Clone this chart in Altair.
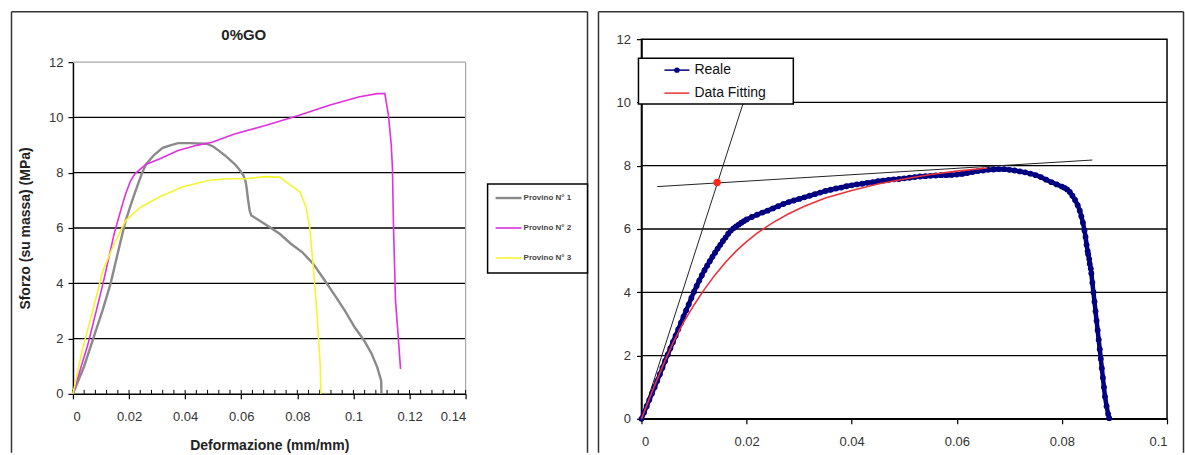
import altair as alt
import pandas as pd

FONT = "Liberation Sans"

# ---------------- Left panel: 0%GO ----------------
left_title = "0%GO"
p1_x = [0, 0.004, 0.0074, 0.0105, 0.0134, 0.016, 0.0188, 0.021, 0.0228, 0.0245, 0.026, 0.029, 0.032, 0.035,
        0.0375, 0.0415, 0.0476, 0.050, 0.052, 0.0545, 0.0563, 0.058, 0.0596, 0.0608, 0.0616, 0.062, 0.0623,
        0.063, 0.0636, 0.066, 0.0683, 0.071, 0.0737, 0.0777, 0.0817, 0.0857, 0.0898, 0.0938, 0.097, 0.1005,
        0.1038, 0.1065, 0.1085, 0.1099, 0.110]
p1_y = [0, 1.0, 2.05, 3.0, 3.98, 5.1, 6.27, 6.95, 7.48, 7.95, 8.3, 8.65, 8.9, 9.0,
        9.07, 9.07, 9.05, 8.95, 8.8, 8.6, 8.44, 8.28, 8.08, 7.9, 7.66, 7.4, 7.12,
        6.63, 6.45, 6.3, 6.15, 5.97, 5.79, 5.43, 5.13, 4.7, 4.1, 3.5, 3.0, 2.4,
        1.93, 1.45, 0.96, 0.48, 0]

p2_x = [0, 0.0054, 0.0107, 0.0147, 0.0175, 0.0188, 0.0205, 0.0221, 0.026, 0.0308, 0.0375, 0.0442, 0.0496,
        0.0576, 0.0683, 0.0804, 0.0911, 0.1018, 0.1085, 0.1112, 0.1125, 0.1135, 0.1139, 0.1143, 0.115,
        0.1159, 0.1168]
p2_y = [0, 1.81, 3.98, 5.79, 6.8, 7.24, 7.7, 7.96, 8.3, 8.5, 8.8, 8.99, 9.1,
        9.4, 9.7, 10.07, 10.43, 10.74, 10.86, 10.86, 10.07, 9.0, 8.2, 6.03, 3.38,
        2.17, 0.9]

p3_x = [0, 0.0033, 0.0074, 0.0107, 0.0147, 0.0188, 0.0241, 0.0308, 0.0389, 0.0482, 0.055, 0.0616, 0.0683,
        0.0737, 0.0777, 0.081, 0.0831, 0.0844, 0.0857, 0.0871, 0.0882, 0.0884]
p3_y = [0, 1.57, 3.14, 4.46, 5.43, 6.27, 6.75, 7.12, 7.48, 7.72, 7.78, 7.78, 7.86,
        7.84, 7.54, 7.3, 6.75, 6.03, 4.58, 2.77, 0.96, 0]

left_names = ["Provino N° 1", "Provino N° 2", "Provino N° 3"]
left_colors = ["#8a8a8a", "#e030e0", "#f4f430"]
left_widths = [2.4, 1.6, 1.6]
left_x_ticks = [0, 0.02, 0.04, 0.06, 0.08, 0.1, 0.12, 0.14]
left_y_ticks = [0, 2, 4, 6, 8, 10, 12]
left_grid = [2, 4, 6, 8, 10]
left_x_max = 0.14
left_y_max = 12
left_minor = [0, 0.004, 0.008, 0.012, 0.016, 0.02, 0.024, 0.028, 0.032, 0.036, 0.04, 0.044, 0.048,
              0.052, 0.056, 0.06, 0.064, 0.068, 0.072, 0.076, 0.08, 0.084, 0.088, 0.092, 0.096, 0.1,
              0.104, 0.108, 0.112, 0.116, 0.12, 0.124, 0.128, 0.132, 0.136, 0.14]

# ---------------- Right panel: Reale vs Data Fitting ----------------
reale_x = [0, 0.0005, 0.001, 0.0015, 0.002, 0.0025, 0.003, 0.0035, 0.004, 0.0045, 0.005, 0.0055, 0.006,
           0.0065, 0.007, 0.0075, 0.008, 0.0085, 0.009, 0.0095, 0.010, 0.0105, 0.011, 0.0115, 0.012,
           0.0125, 0.013, 0.0135, 0.014, 0.0145, 0.015, 0.0155, 0.016, 0.0165, 0.017, 0.0175, 0.018,
           0.0185, 0.019, 0.0195, 0.020, 0.021, 0.022, 0.023, 0.024, 0.025, 0.026, 0.027, 0.028, 0.029,
           0.030, 0.031, 0.032, 0.033, 0.034, 0.035, 0.036, 0.037, 0.038, 0.039, 0.040, 0.041, 0.042,
           0.043, 0.044, 0.045, 0.046, 0.047, 0.048, 0.049, 0.050, 0.051, 0.052, 0.053, 0.054, 0.055,
           0.056, 0.057, 0.058, 0.059, 0.060, 0.061, 0.062, 0.063, 0.064, 0.065, 0.066, 0.067, 0.068,
           0.069, 0.070, 0.071, 0.072, 0.073, 0.074, 0.075, 0.076, 0.077, 0.078, 0.079, 0.080, 0.0805,
           0.081, 0.0815, 0.082, 0.0825, 0.083, 0.0834, 0.0837, 0.084, 0.0843, 0.0845, 0.0847, 0.0849,
           0.085, 0.0852, 0.0853, 0.0855, 0.0856, 0.0858, 0.086, 0.0862, 0.0864, 0.0866, 0.0868, 0.087,
           0.0872, 0.0874, 0.0876, 0.0878, 0.088, 0.0882, 0.0885, 0.0888, 0.089]
reale_y = [0, 0.2, 0.4, 0.6, 0.8, 1.0, 1.2, 1.41, 1.62, 1.83, 2.03, 2.23, 2.43,
           2.63, 2.83, 3.03, 3.23, 3.43, 3.62, 3.82, 4.02, 4.2, 4.37, 4.54, 4.7,
           4.84, 4.98, 5.12, 5.25, 5.38, 5.5, 5.62, 5.73, 5.85, 5.95, 6.02, 6.08,
           6.14, 6.2, 6.25, 6.3, 6.38, 6.45, 6.52, 6.58, 6.65, 6.72, 6.79, 6.85, 6.9,
           6.95, 7.0, 7.05, 7.1, 7.15, 7.2, 7.24, 7.28, 7.31, 7.35, 7.38, 7.41, 7.43,
           7.46, 7.48, 7.51, 7.53, 7.55, 7.57, 7.58, 7.6, 7.62, 7.64, 7.66, 7.67, 7.68,
           7.69, 7.7, 7.7, 7.71, 7.72, 7.74, 7.77, 7.8, 7.83, 7.85, 7.87, 7.88, 7.89,
           7.89, 7.87, 7.85, 7.82, 7.79, 7.75, 7.7, 7.64, 7.56, 7.48, 7.41, 7.34, 7.3,
           7.25, 7.17, 7.05, 6.92, 6.75, 6.58, 6.4, 6.2, 5.95, 5.75, 5.5, 5.3,
           5.2, 5.05, 4.9, 4.75, 4.6, 4.3, 4.0, 3.7, 3.4, 3.1, 2.8, 2.5,
           2.2, 1.9, 1.6, 1.3, 1.0, 0.7, 0.4, 0.15, 0.02]

fit_x = [0, 0.002, 0.004, 0.006, 0.008, 0.010, 0.012, 0.014, 0.016, 0.018, 0.020, 0.022, 0.025, 0.028,
         0.031, 0.035, 0.040, 0.045, 0.050, 0.055, 0.060, 0.0658]
fit_y = [0, 0.85, 1.65, 2.4, 3.05, 3.6, 4.1, 4.55, 4.95, 5.3, 5.6, 5.87, 6.2, 6.48,
         6.72, 6.98, 7.22, 7.42, 7.58, 7.72, 7.83, 7.93]

tan1_x = [0.003, 0.0858]
tan1_y = [7.34, 8.18]
tan2_x = [0, 0.0193]
tan2_y = [0, 9.95]
yield_x = [0.0144]
yield_y = [7.47]

right_names = ["Reale", "Data Fitting"]
reale_color = "#000080"
fit_color = "#e8333c"
right_x_ticks = [0, 0.02, 0.04, 0.06, 0.08, 0.1]
right_y_ticks = [0, 2, 4, 6, 8, 10, 12]
right_grid = [2, 4, 6, 8, 10]

FRAME = "#333333"
decor = pd.DataFrame({"k": [0]})


def vrule(x, y1, y2, color=FRAME, w=1.5):
    return alt.Chart(decor).mark_rule(color=color, strokeWidth=w).encode(
        x=alt.value(x), y=alt.value(y1), y2=alt.value(y2))


def hrule(x1, x2, y, color=FRAME, w=1.5):
    return alt.Chart(decor).mark_rule(color=color, strokeWidth=w).encode(
        x=alt.value(x1), x2=alt.value(x2), y=alt.value(y))


def label(x, y, txt, size, color="#222", weight="normal", align="left"):
    return alt.Chart(decor).mark_text(align=align, baseline="middle", font=FONT, fontSize=size,
                                      color=color, fontWeight=weight).encode(
        x=alt.value(x), y=alt.value(y), text=alt.value(txt))


# ---------------- build left ----------------
# the left plot group starts 23 px above its value-12 line, so both panels share one top edge
TOP = 23
W1, H1 = 393, 332 + TOP
xs1 = alt.Scale(domain=[0, left_x_max], nice=False)
ys1 = alt.Scale(domain=[0, left_y_max], range=[H1, TOP], nice=False)
xa1 = alt.Axis(values=left_x_ticks, format="~g", title="Deformazione (mm/mm)", labelPadding=12,
               titlePadding=15)
ya1 = alt.Axis(values=left_y_ticks, title="Sforzo (su massa) (MPa)", labelPadding=5, titlePadding=16)

left_layers = [
    vrule(-61.5, -27.5, 414), hrule(-61.5, 515, -27.5), vrule(515, -27.5, 414),
    label(171, -4, left_title, 15, color="#222", weight="bold", align="center"),
    alt.Chart(pd.DataFrame({"g": left_grid})).mark_rule(color="black", strokeWidth=1.3).encode(
        y=alt.Y("g:Q", scale=ys1, axis=ya1)),
    # light grey plot-area border (top at 12, right at 0.14)
    alt.Chart(pd.DataFrame({"g": [left_y_max]})).mark_rule(color="#a8a8a8", strokeWidth=1.2).encode(
        y=alt.Y("g:Q", scale=ys1, axis=ya1)),
    alt.Chart(pd.DataFrame({"x": [left_x_max], "y": [0], "y2": [left_y_max]})).mark_rule(
        color="#a8a8a8", strokeWidth=1.2).encode(
        x=alt.X("x:Q", scale=xs1, axis=xa1), y=alt.Y("y:Q", scale=ys1, axis=ya1), y2="y2:Q"),
    alt.Chart(pd.DataFrame({"m": left_minor})).mark_rule(color="black", strokeWidth=1).encode(
        x=alt.X("m:Q", scale=xs1, axis=xa1), y=alt.value(H1 - 4), y2=alt.value(H1)),
]
for name, col, w, xs, ys in zip(left_names, left_colors, left_widths, [p1_x, p2_x, p3_x], [p1_y, p2_y, p3_y]):
    df = pd.DataFrame({"x": xs, "y": ys, "i": range(len(xs))})
    left_layers.append(
        alt.Chart(df).mark_line(color=col, strokeWidth=w).encode(
            x=alt.X("x:Q", scale=xs1, axis=xa1),
            y=alt.Y("y:Q", scale=ys1, axis=ya1),
            order="i:Q"))

# legend box (left)
left_layers.append(alt.Chart(decor).mark_rect(fill="white", stroke="black", strokeWidth=1.5).encode(
    x=alt.value(415), x2=alt.value(515), y=alt.value(122 + TOP), y2=alt.value(211 + TOP)))
for i, (name, col, w) in enumerate(zip(left_names, left_colors, left_widths)):
    yy = 136 + TOP + i * 30
    left_layers.append(hrule(423, 449, yy, color=col, w=w))
    left_layers.append(label(451, yy, name, 8, color="#444", weight="bold"))

left = alt.layer(*left_layers).properties(
    width=W1, height=H1,
    view=alt.ViewBackground(stroke=None))

# ---------------- build right ----------------
W2, H2 = 526, 380
xs2 = alt.Scale(domain=[0, 0.1], nice=False)
ys2 = alt.Scale(domain=[0, 12], nice=False)
xa2 = alt.Axis(values=right_x_ticks, format="~g", title=None, labelPadding=12)
ya2 = alt.Axis(values=right_y_ticks, title=None, labelPadding=6)

df_reale = pd.DataFrame({"x": reale_x, "y": reale_y, "i": range(len(reale_x))})
df_fit = pd.DataFrame({"x": fit_x, "y": fit_y, "i": range(len(fit_x))})
df_t1 = pd.DataFrame({"x": tan1_x, "y": tan1_y})
df_t2 = pd.DataFrame({"x": tan2_x, "y": tan2_y})
df_yield = pd.DataFrame({"x": yield_x, "y": yield_y})


def enc(ch):
    return ch.encode(x=alt.X("x:Q", scale=xs2, axis=xa2), y=alt.Y("y:Q", scale=ys2, axis=ya2))


right_layers = [
    vrule(-43, -27.5, 414), hrule(-43, 542.5, -27.5), vrule(542.5, -27.5, 414),
    alt.Chart(pd.DataFrame({"g": right_grid})).mark_rule(color="black", strokeWidth=1.3).encode(
        y=alt.Y("g:Q", scale=ys2, axis=ya2)),
    enc(alt.Chart(df_t1).mark_line(color="#222", strokeWidth=1)),
    enc(alt.Chart(df_t2).mark_line(color="#222", strokeWidth=1)),
    enc(alt.Chart(df_reale).mark_line(color=reale_color, strokeWidth=4.5)).encode(order="i:Q"),
    enc(alt.Chart(df_reale).mark_circle(color=reale_color, size=34, opacity=1)),
    enc(alt.Chart(df_fit).mark_line(color=fit_color, strokeWidth=1.6)).encode(order="i:Q"),
    enc(alt.Chart(df_yield).mark_circle(color="#ff2a1a", size=55, opacity=1)),
]
# legend box (right)
right_layers.append(alt.Chart(decor).mark_rect(fill="white", stroke="black", strokeWidth=1.5).encode(
    x=alt.value(-3), x2=alt.value(152), y=alt.value(19), y2=alt.value(65)))
right_layers.append(hrule(23, 48, 31, color=reale_color, w=1.5))
right_layers.append(alt.Chart(decor).mark_circle(color=reale_color, size=30, opacity=1).encode(
    x=alt.value(35.5), y=alt.value(31)))
right_layers.append(label(53, 31, right_names[0], 14, color="#111"))
right_layers.append(hrule(23, 48, 54, color=fit_color, w=1.5))
right_layers.append(label(53, 54, right_names[1], 14, color="#111"))

right = alt.layer(*right_layers).properties(
    width=W2, height=H2,
    view=alt.ViewBackground(stroke="black", strokeWidth=1.5))

chart = alt.hconcat(left, right, spacing=8).properties(
    padding={"left": 10, "top": 10, "right": 0, "bottom": 0},
    background="white",
).configure_axis(
    labelFont=FONT, labelFontSize=13, labelColor="#333",
    titleFont=FONT, titleFontSize=14, titleFontWeight="bold", titleColor="#222",
    domainColor="black", domainWidth=1.5, tickColor="black", tickSize=5, tickWidth=1.2, grid=False,
)

chart.save("out.html", embed_options={"renderer": "svg", "actions": False})
